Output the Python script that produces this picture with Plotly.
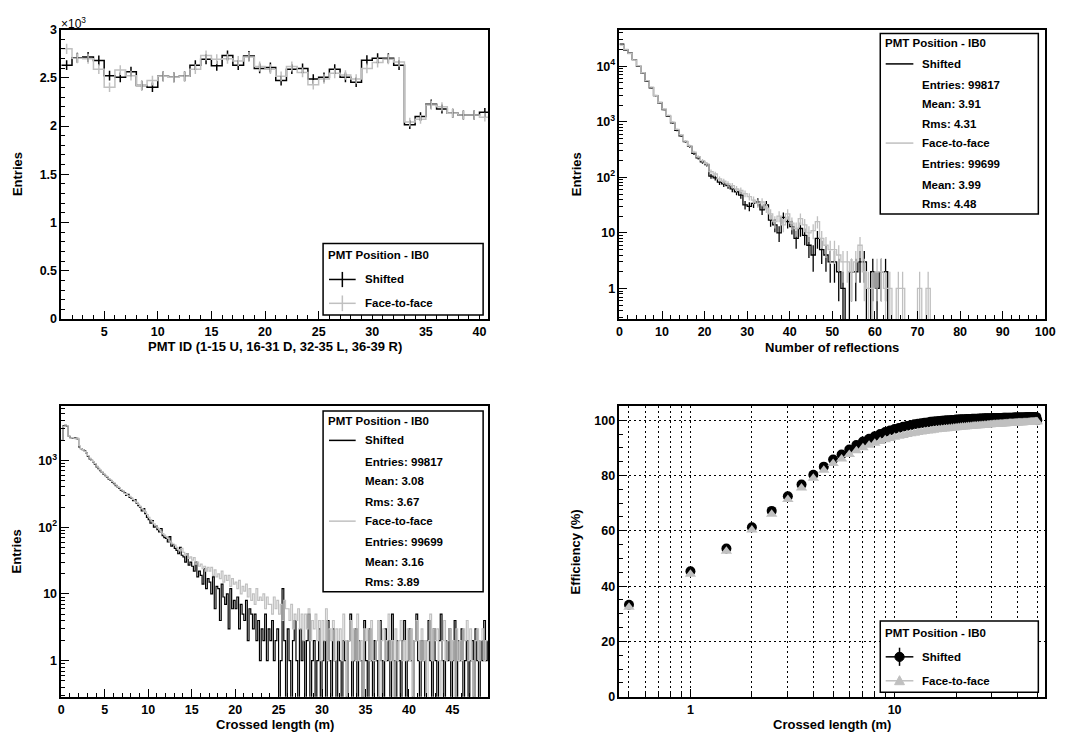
import math
import plotly.graph_objects as go

W, H = 1075, 744
BLACK = '#000000'
GREY = '#c0c0c0'
FONT = 'Liberation Sans'

# ---------------- data ----------------
# Top-left: hits per PMT (bins [k, k+1], k = 1..40)
pmt_ids = list(range(1, 41))
pmt_shifted = [2631, 2708, 2715, 2680, 2522, 2505, 2563, 2420, 2403, 2515,
               2505, 2515, 2631, 2692, 2624, 2732, 2631, 2726, 2597, 2607,
               2471, 2590, 2597, 2488, 2505, 2590, 2505, 2454, 2682, 2702,
               2702, 2631, 2014, 2098, 2227, 2176, 2132, 2115, 2115, 2142]
pmt_face = [2800, 2702, 2698, 2590, 2403, 2580, 2522, 2420, 2471, 2515,
            2505, 2515, 2590, 2732, 2692, 2698, 2675, 2715, 2617, 2590,
            2515, 2617, 2556, 2427, 2488, 2546, 2529, 2488, 2597, 2658,
            2692, 2665, 2041, 2070, 2217, 2200, 2132, 2115, 2115, 2092]

# Top-right: number of reflections (bins of width 1 starting at 0)
refl_shifted = [25000, 19600, 17200, 13100, 10000, 7600, 5400, 4100, 2950, 2200,
                1650, 1270, 960, 700, 560, 440, 360, 270, 225, 190,
                170, 105, 98, 82, 76, 71, 62, 55, 48, 32,
                30, 34, 36, 26, 32, 17, 14, 10, 19, 16,
                13, 8, 12, 9, 6, 4, 8, 5, 4, 3,
                3, 2, 1, 0, 2, 2, 3, 3, 0, 2,
                1, 2, 2, 0, 0, 0, 0, 0, 0, 0,
                0, 0, 0, 0]
refl_face = [24000, 20000, 16800, 13000, 10200, 7700, 5500, 4200, 3000, 2250,
             1700, 1300, 990, 730, 580, 450, 370, 285, 235, 200,
             175, 127, 115, 94, 85, 76, 71, 62, 58, 51,
             45, 39, 34, 36, 28, 22, 16, 20, 14, 22,
             15, 12, 18, 14, 10, 11, 16, 8, 6, 5,
             5, 4, 3, 3, 2, 3, 6, 2, 1, 1,
             2, 2, 1, 1, 0, 1, 1, 0, 0, 0,
             1, 0, 1, 0]

# Bottom-left: crossed length (bins of 0.2 m starting at 0)
len_bin = 0.2
len_shifted = [
    2000, 3300, 3350, 3250, 2300,   2200, 2150, 2200, 2150, 2100,
    1600, 1500, 1450, 1400, 1300,   1150, 1050, 1000, 950, 880,
    800, 750, 700, 660, 620,        590, 560, 520, 500, 470,
    450, 420, 400, 380, 355,        345, 330, 300, 310, 280,
    270, 250, 260, 230, 210,        200, 175, 190, 160, 140,
    130, 115, 125, 100, 105,        92, 85, 95, 75, 70,
    68, 60, 72, 52, 55,             48, 45, 40, 50, 38,
    36, 30, 40, 27, 30,             26, 22, 30, 18, 22,
    19, 14, 24, 12, 17,             15, 10, 18, 6, 13,
    12, 4, 14, 9, 7,                10, 3, 12, 6, 8,
    6, 9, 3, 7, 5,                  4, 8, 2, 6, 5,
    3, 5, 2, 4, 1,                  3, 2, 5, 1, 3,
    2, 4, 1, 2, 3,                  0, 1, 12, 2, 0,
    3, 1, 0, 2, 4,                  1, 0, 3, 1, 2,
    0, 2, 5, 0, 1,                  2, 0, 1, 3, 0,
    1, 2, 0, 4, 1,                  0, 3, 1, 0, 2,
    1, 0, 2, 1, 0,                  2, 5, 0, 1, 3,
    0, 2, 1, 0, 4,                  1, 0, 3, 1, 0,
    2, 1, 0, 4, 1,                  0, 3, 1, 2, 0,
    5, 1, 0, 2, 1,                  0, 2, 4, 0, 1,
    3, 1, 0, 2, 5,                  1, 0, 2, 1, 0,
    2, 4, 1, 0, 3,                  1, 0, 2, 5, 1,
    0, 2, 1, 3, 0,                  1, 4, 0, 2, 1,
    3, 0, 1, 2, 0,                  1, 2, 0, 3, 1,
    0, 2, 1, 4, 1,                  2]
len_face = [
    2000, 3200, 3300, 3300, 2300,   2150, 2200, 2150, 2100, 2150,
    1650, 1500, 1450, 1380, 1300,   1180, 1080, 1000, 960, 900,
    820, 770, 720, 670, 630,        600, 570, 530, 510, 480,
    460, 430, 405, 390, 365,        350, 320, 310, 300, 290,
    275, 260, 245, 235, 220,        205, 190, 180, 170, 155,
    140, 130, 120, 112, 105,        98, 92, 85, 80, 76,
    72, 68, 62, 58, 56,             54, 50, 46, 44, 48,
    42, 38, 40, 34, 36,             32, 35, 28, 30, 26,
    28, 24, 26, 22, 25,             22, 25, 19, 23, 18,
    20, 17, 22, 15, 19,             16, 19, 13, 17, 14,
    15, 12, 16, 10, 13,             11, 14, 9, 12, 8,
    10, 7, 12, 8, 9,                8, 10, 6, 9, 7,
    7, 5, 9, 6, 8,                  5, 7, 4, 8, 6,
    6, 4, 7, 3, 5,                  4, 6, 3, 5, 2,
    5, 3, 6, 2, 4,                  3, 5, 2, 4, 1,
    4, 2, 6, 1, 3,                  2, 4, 1, 3, 2,
    3, 1, 5, 2, 0,                  2, 4, 1, 3, 1,
    5, 1, 2, 0, 3,                  2, 3, 1, 4, 1,
    1, 2, 4, 0, 2,                  3, 1, 2, 5, 1,
    2, 0, 3, 1, 2,                  4, 1, 2, 1, 3,
    1, 3, 0, 2, 4,                  2, 1, 3, 1, 2,
    0, 2, 5, 1, 3,                  2, 3, 1, 0, 2,
    4, 1, 2, 3, 1,                  2, 0, 3, 1, 2,
    1, 3, 2, 4, 1,                  3, 1, 0, 2, 3,
    1, 2, 3, 1, 2,                  2]

# Bottom-right: efficiency vs crossed length
eff_x = [0.5 * i for i in range(1, 101)]
eff_shifted = [
    33.3, 45.4, 53.6, 61.3, 67.2, 72.5, 76.7, 80.3, 83.2, 85.8,
    87.6, 89.4, 91.0, 92.3, 93.3, 94.2, 95.0, 95.7, 96.3, 96.8,
    97.2, 97.6, 97.9, 98.2, 98.5, 98.7, 98.9, 99.1, 99.2, 99.4,
    99.5, 99.6, 99.7, 99.8, 99.9, 99.95, 100.0, 100.1, 100.1, 100.2,
    100.2, 100.3, 100.3, 100.35, 100.4, 100.4, 100.45, 100.5, 100.5, 100.5,
    100.55, 100.6, 100.6, 100.6, 100.65, 100.65, 100.7, 100.7, 100.7, 100.7,
    100.75, 100.75, 100.75, 100.8, 100.8, 100.8, 100.8, 100.85, 100.85, 100.85,
    100.85, 100.9, 100.9, 100.9, 100.9, 100.9, 100.95, 100.95, 100.95, 100.95,
    100.95, 101.0, 101.0, 101.0, 101.0, 101.0, 101.0, 101.05, 101.05, 101.05,
    101.05, 101.05, 101.05, 101.1, 101.1, 101.1, 101.1, 101.1, 101.1, 100.0]
eff_face = [
    32.4, 44.3, 52.6, 60.3, 66.0, 71.3, 75.5, 79.0, 81.9, 84.3,
    86.0, 87.6, 88.9, 90.0, 90.9, 91.7, 92.3, 92.9, 93.4, 93.8,
    94.2, 94.5, 94.8, 95.1, 95.3, 95.5, 95.7, 95.9, 96.05, 96.2,
    96.35, 96.5, 96.6, 96.7, 96.8, 96.9, 97.0, 97.1, 97.2, 97.3,
    97.35, 97.4, 97.5, 97.55, 97.6, 97.7, 97.75, 97.8, 97.85, 97.9,
    97.95, 98.0, 98.05, 98.1, 98.15, 98.2, 98.25, 98.3, 98.35, 98.4,
    98.45, 98.5, 98.5, 98.55, 98.6, 98.6, 98.65, 98.7, 98.7, 98.75,
    98.8, 98.8, 98.85, 98.85, 98.9, 98.9, 98.95, 98.95, 99.0, 99.0,
    99.05, 99.05, 99.1, 99.1, 99.1, 99.15, 99.15, 99.2, 99.2, 99.2,
    99.25, 99.25, 99.3, 99.3, 99.3, 99.35, 99.35, 99.4, 99.4, 99.4]

stats_refl = [("Entries: 99817", "Mean: 3.91", "Rms: 4.31"),
              ("Entries: 99699", "Mean: 3.99", "Rms: 4.48")]
stats_len = [("Entries: 99817", "Mean: 3.08", "Rms: 3.67"),
             ("Entries: 99699", "Mean: 3.16", "Rms: 3.89")]

# ---------------- helpers ----------------
def px_x(p):
    return p / W

def px_y(p):
    return 1 - p / H

def step(edges0, width, vals, floor=None):
    n = len(vals)
    xs = [edges0 + i * width for i in range(n + 1)]
    ys = list(vals) + [vals[-1]]
    if floor is not None:
        ys = [v if v > 0 else floor for v in ys]
    return xs, ys

fig = go.Figure()

# ---- top-left ----
xs, ys = step(1, 1, pmt_shifted)
fig.add_trace(go.Scatter(x=xs, y=ys, mode='lines', line=dict(color=BLACK, width=1.5, shape='hv'),
                         xaxis='x', yaxis='y', showlegend=False))
xs, ys = step(1, 1, pmt_face)
fig.add_trace(go.Scatter(x=xs, y=ys, mode='lines', line=dict(color=GREY, width=1.5, shape='hv'),
                         xaxis='x', yaxis='y', showlegend=False))
centers = [k + 0.5 for k in pmt_ids]
for vals, col in ((pmt_shifted, BLACK), (pmt_face, GREY)):
    fig.add_trace(go.Scatter(x=centers, y=vals, mode='markers',
                             marker=dict(size=1, color='rgba(0,0,0,0)'),
                             error_y=dict(type='data', array=[math.sqrt(v) for v in vals],
                                          color=col, thickness=1.5, width=0),
                             xaxis='x', yaxis='y', showlegend=False))

# ---- top-right ----
for vals, col in ((refl_shifted, BLACK), (refl_face, GREY)):
    xs, ys = step(0, 1, vals, floor=1e-3)
    fig.add_trace(go.Scatter(x=xs, y=ys, mode='lines', line=dict(color=col, width=1.3, shape='hv'),
                             xaxis='x2', yaxis='y2', showlegend=False))
    cx = [i + 0.5 for i in range(len(vals)) if vals[i] > 0]
    cy = [v for v in vals if v > 0]
    fig.add_trace(go.Scatter(x=cx, y=cy, mode='markers',
                             marker=dict(size=1, color='rgba(0,0,0,0)'),
                             error_y=dict(type='data', symmetric=False,
                                          array=[math.sqrt(v) for v in cy],
                                          arrayminus=[min(math.sqrt(v), v - 1e-3) for v in cy],
                                          color=col, thickness=1.3, width=0),
                             xaxis='x2', yaxis='y2', showlegend=False))

# ---- bottom-left ----
for vals, col in ((len_shifted, BLACK), (len_face, GREY)):
    xs, ys = step(0, len_bin, vals, floor=1e-3)
    fig.add_trace(go.Scatter(x=xs, y=ys, mode='lines', line=dict(color=col, width=1.2, shape='hv'),
                             xaxis='x3', yaxis='y3', showlegend=False))

# ---- bottom-right ----
fig.add_trace(go.Scatter(x=eff_x, y=eff_shifted, mode='markers',
                         marker=dict(symbol='circle', size=10, color=BLACK),
                         xaxis='x4', yaxis='y4', showlegend=False))
fig.add_trace(go.Scatter(x=eff_x, y=eff_face, mode='markers',
                         marker=dict(symbol='triangle-up', size=10, color=GREY),
                         xaxis='x4', yaxis='y4', showlegend=False))

# ---------------- axes ----------------
tickfont = dict(family=FONT, size=12.5, color=BLACK, weight='bold')
base = dict(showline=True, mirror=True, linecolor=BLACK, linewidth=1.5,
            ticks='inside', ticklen=8, tickwidth=1, tickcolor=BLACK,
            showgrid=False, zeroline=False, tickfont=tickfont)

dx_left = [px_x(59), px_x(491)]
dx_right = [px_x(624), px_x(1055)]
dy_top = [px_y(318), px_y(23)]
dy_bot = [px_y(703), px_y(407)]
GDASH = '1.5px,3.5px'

def lin_minor(dt):
    return dict(ticks='inside', ticklen=4, tickwidth=1, tickcolor=BLACK, dtick=dt, showgrid=False)

def log_minor_vals(lo, hi):
    vals = []
    d = 10.0 ** math.floor(lo)
    while d < 10 ** hi:
        for m in range(2, 10):
            v = m * d
            if 10 ** lo <= v <= 10 ** hi:
                vals.append(v)
        d *= 10
    return vals

yl_tr = (-0.55, 4.66)
yl_bl = (-0.54, 3.81)
dec_vals = [1, 10, 100, 1000, 10000]
dec_text = ['1', '10', '10<sup>2</sup>', '10<sup>3</sup>', '10<sup>4</sup>']

fig.update_layout(
    width=W, height=H, margin=dict(l=0, r=0, t=0, b=0),
    paper_bgcolor='white', plot_bgcolor='white', showlegend=False,
    xaxis=dict(base, domain=dx_left, anchor='y', range=[1, 40.8], tick0=0, dtick=5,
               minor=lin_minor(1)),
    yaxis=dict(base, domain=dy_top, anchor='x', range=[0, 3000],
               tickmode='array', tickvals=[0, 500, 1000, 1500, 2000, 2500, 3000],
               ticktext=['0', '0.5', '1', '1.5', '2', '2.5', '3'], minor=lin_minor(100)),
    xaxis2=dict(base, domain=dx_right, anchor='y2', range=[0, 100], tick0=0, dtick=10,
                minor=lin_minor(2)),
    yaxis2=dict(base, domain=dy_top, anchor='x2', type='log', range=list(yl_tr),
                tickmode='array', tickvals=dec_vals, ticktext=dec_text,
                minor=dict(ticks='inside', ticklen=4, tickcolor=BLACK, tickmode='array',
                           tickvals=log_minor_vals(*yl_tr), showgrid=False)),
    xaxis3=dict(base, domain=dx_left, anchor='y3', range=[0, 49.1], tick0=0, dtick=5,
                minor=lin_minor(1)),
    yaxis3=dict(base, domain=dy_bot, anchor='x3', type='log', range=list(yl_bl),
                tickmode='array', tickvals=dec_vals[:4], ticktext=dec_text[:4],
                minor=dict(ticks='inside', ticklen=4, tickcolor=BLACK, tickmode='array',
                           tickvals=log_minor_vals(*yl_bl), showgrid=False)),
    xaxis4=dict(base, domain=dx_right, anchor='y4', type='log',
                range=[math.log10(0.449), math.log10(54.7)],
                tickmode='array', tickvals=[1, 10], ticktext=['1', '10'],
                showgrid=True, gridcolor=BLACK, griddash=GDASH, gridwidth=1,
                minor=dict(ticks='inside', ticklen=4, tickcolor=BLACK, tickmode='array',
                           tickvals=[0.5, 0.6, 0.7, 0.8, 0.9, 2, 3, 4, 5, 6, 7, 8, 9,
                                     20, 30, 40, 50],
                           showgrid=True, gridcolor=BLACK, griddash=GDASH, gridwidth=1)),
    yaxis4=dict(base, domain=dy_bot, anchor='x4', range=[0, 105], tick0=0, dtick=20,
                showgrid=True, gridcolor=BLACK, griddash=GDASH, gridwidth=1,
                minor=lin_minor(5)),
)

# ---------------- annotations / legends ----------------
ann = []
shapes = []
tfont = dict(family=FONT, size=13, color=BLACK, weight='bold')
lfont = dict(family=FONT, size=11.5, color=BLACK, weight='bold')

def text(x, y, s, font, xanchor='left', angle=0):
    ann.append(dict(x=px_x(x), y=px_y(y), xref='paper', yref='paper', text=s,
                    showarrow=False, xanchor=xanchor, yanchor='middle', font=font,
                    textangle=angle))

def line(x0, y0, x1, y1, col, w=1.5):
    shapes.append(dict(type='line', xref='paper', yref='paper', x0=px_x(x0), y0=px_y(y0),
                       x1=px_x(x1), y1=px_y(y1), line=dict(color=col, width=w)))

def box(x0, y0, x1, y1):
    shapes.append(dict(type='rect', xref='paper', yref='paper', x0=px_x(x0), y0=px_y(y1),
                       x1=px_x(x1), y1=px_y(y0), line=dict(color=BLACK, width=1.5),
                       fillcolor='white', layer='above'))

# axis titles
text(275, 346, 'PMT ID (1-15 U, 16-31 D, 32-35 L, 36-39 R)', tfont, 'center')
text(14, 170.5, 'Entries', tfont, 'center', -90)
text(57, 16, '×10<sup>3</sup>', dict(family=FONT, size=12, color=BLACK), 'left')
text(839.5, 347, 'Number of reflections', tfont, 'center')
text(580, 170.5, 'Entries', tfont, 'center', -90)
text(275, 731, 'Crossed length (m)', tfont, 'center')
text(14, 555, 'Entries', tfont, 'center', -90)
text(839.5, 731, 'Crossed length (m)', tfont, 'center')
text(580, 555, 'Efficiency (%)', tfont, 'center', -90)

# top-left legend
box(324, 241, 486, 314)
text(327, 253, 'PMT Position - IB0', lfont)
line(330, 277.7, 357, 277.7, BLACK, 1.5)
line(343.5, 270, 343.5, 285.5, BLACK, 1.5)
text(364, 277.7, 'Shifted', lfont)
line(330, 302, 357, 302, GREY, 1.5)
line(343.5, 294, 343.5, 310, GREY, 1.5)
text(364, 302, 'Face-to-face', lfont)

# top-right legend
box(888, 27, 1048, 211)
text(891, 36.7, 'PMT Position - IB0', lfont)
line(893.5, 58, 921.5, 58, BLACK, 1.5)
text(928, 58, 'Shifted', lfont)
for s, yy in zip(stats_refl[0], (79.3, 99, 119.7)):
    text(928, yy, s, lfont)
line(893.5, 138.7, 921.5, 138.7, GREY, 1.5)
text(928, 138.7, 'Face-to-face', lfont)
for s, yy in zip(stats_refl[1], (160, 181.7, 201)):
    text(928, yy, s, lfont)

# bottom-left legend
box(324, 411.7, 486, 596)
text(327, 421.7, 'PMT Position - IB0', lfont)
line(330, 441.7, 357, 441.7, BLACK, 1.5)
text(364, 441.7, 'Shifted', lfont)
for s, yy in zip(stats_len[0], (463.3, 483.3, 504)):
    text(364, yy, s, lfont)
line(330, 524, 357, 524, GREY, 1.5)
text(364, 524, 'Face-to-face', lfont)
for s, yy in zip(stats_len[1], (545, 566, 586)):
    text(364, yy, s, lfont)

# bottom-right legend
box(888, 625.7, 1048, 698.3)
text(891, 638.3, 'PMT Position - IB0', lfont)
line(893.5, 662.3, 921.5, 662.3, BLACK, 1.5)
line(907.5, 653, 907.5, 671.5, BLACK, 1.5)
shapes.append(dict(type='circle', xref='paper', yref='paper',
                   x0=px_x(902.8), x1=px_x(912.2), y0=px_y(667), y1=px_y(657.6),
                   fillcolor=BLACK, line=dict(color=BLACK, width=1)))
text(928, 662.3, 'Shifted', lfont)
line(893.5, 686.7, 921.5, 686.7, GREY, 1.5)
tri = 'M {} {} L {} {} L {} {} Z'.format(px_x(902.5), px_y(690.7), px_x(912.5), px_y(690.7),
                                         px_x(907.5), px_y(681.5))
shapes.append(dict(type='path', xref='paper', yref='paper', path=tri,
                   fillcolor=GREY, line=dict(color=GREY, width=1)))
text(928, 686.7, 'Face-to-face', lfont)

fig.update_layout(annotations=ann, shapes=shapes)
fig.write_html('out.html')
